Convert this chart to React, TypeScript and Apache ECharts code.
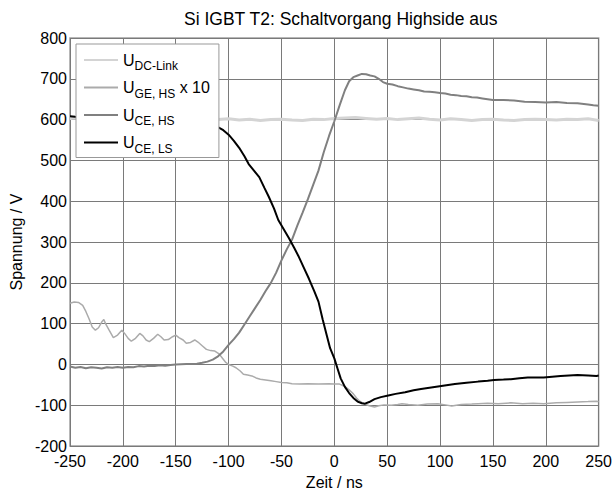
import React, { useEffect, useRef } from "react";
import * as echarts from "echarts";

const FONT = "'Liberation Sans', Arial, sans-serif";

const titleText = "Si IGBT T2: Schaltvorgang Highside aus";
const xTicks = { min: -250, max: 250, step: 50 };
const yTicks = { min: -200, max: 800, step: 100 };

// U_DC-Link
const tDC = [-250, -245, -240, -200, -150, -110, -100, -90, -80, -70, -60, -50, -40, -30, -20, -10, 0, 10, 20, 30, 40, 50, 60, 70, 80, 90, 100, 110, 120, 130, 140, 150, 160, 170, 180, 190, 200, 210, 220, 230, 240, 250];
const vDC = [603, 604, 602, 601, 600, 600, 602, 599, 601, 598, 600, 601, 599, 598, 601, 600, 603, 604, 605, 603, 601, 603, 600, 602, 604, 601, 599, 602, 600, 598, 600, 601, 599, 598, 600, 601, 600, 599, 601, 600, 602, 598];

// U_GE,HS x 10
const tGE = [-250, -246, -242, -238, -235, -232, -229, -226, -223, -220, -218, -216, -213, -209, -205, -201, -198, -195, -192, -188, -184, -181, -178, -175, -171, -167, -164, -161, -157, -153, -150, -147, -143, -140, -136, -132, -129, -125, -121, -117, -113, -109, -106, -103, -100, -96, -93, -89, -86, -82, -78, -74, -70, -65, -60, -55, -50, -45, -40, -33, -25, -15, -5, 0, 5, 10, 14, 18, 21, 24, 28, 33, 38, 42, 47, 54, 60, 64, 70, 79, 88, 98, 105, 111, 120, 130, 136, 145, 155, 167, 178, 188, 198, 210, 220, 230, 240, 248, 250];
const vGE = [150, 153, 152, 145, 130, 112, 92, 84, 90, 104, 110, 98, 84, 66, 72, 84, 75, 64, 57, 64, 76, 70, 60, 56, 64, 74, 68, 60, 61, 68, 72, 66, 60, 52, 54, 60, 55, 46, 37, 34, 33, 26, 16, 6, 0, -4, -8, -16, -24, -26, -28, -33, -36, -38, -40, -42, -44, -45, -47, -48, -47, -48, -47, -48, -48, -54, -62, -72, -82, -90, -96, -101, -104, -101, -99, -100, -98, -96, -98, -100, -97, -96, -99, -102, -98, -97, -96, -95, -96, -94, -96, -95, -96, -94, -93, -92, -91, -90, -91];

// U_CE,HS
const tCEH = [-250, -245, -240, -235, -230, -225, -220, -215, -210, -205, -200, -195, -190, -185, -180, -175, -170, -165, -160, -155, -150, -140, -130, -125, -120, -115, -110, -105, -100, -95, -90, -85, -80, -75, -70, -65, -60, -55, -50, -45, -40, -35, -30, -25, -20, -15, -10, -5, 0, 5, 10, 14, 18, 22, 26, 30, 34, 38, 42, 46, 50, 55, 60, 65, 70, 75, 80, 85, 90, 95, 100, 105, 110, 115, 120, 125, 130, 135, 140, 145, 150, 160, 170, 180, 190, 200, 210, 220, 230, 240, 245, 250];
const vCEH = [-5, -8, -6, -9, -7, -8, -10, -7, -8, -6, -8, -6, -7, -4, -5, -3, -4, -2, -3, -1, 0, 1, 2, 4, 7, 12, 20, 32, 48, 62, 78, 98, 118, 138, 158, 180, 200, 225, 255, 282, 306, 340, 372, 405, 440, 475, 520, 560, 596, 635, 672, 694, 704, 708, 712, 711, 708, 706, 700, 692, 688, 686, 682, 679, 676, 674, 672, 669, 668, 667, 665, 664, 661, 660, 658, 657, 655, 654, 652, 650, 648, 648, 647, 644, 643, 642, 643, 641, 640, 637, 635, 634];

// U_CE,LS
const tCEL = [-250, -245, -200, -160, -140, -125, -115, -111, -105, -100, -95, -90, -85, -81, -76, -71, -66, -62, -57, -53, -48, -43, -38, -34, -29, -24, -19, -15, -11, -7, -4, 0, 3, 6, 10, 14, 18, 22, 26, 29, 33, 38, 44, 51, 58, 67, 75, 82, 90, 98, 106, 114, 125, 136, 145, 151, 160, 167, 175, 183, 190, 198, 206, 214, 222, 230, 240, 248, 250];
const vCEL = [608, 607, 606, 603, 598, 592, 587, 583, 574, 563, 548, 531, 510, 491, 475, 459, 432, 411, 382, 354, 332, 310, 286, 266, 238, 210, 180, 154, 110, 70, 40, 15, -10, -34, -55, -70, -82, -91, -95, -96, -92, -85, -80, -76, -72, -68, -63, -60, -57, -54, -51, -48, -45, -42, -40, -38, -37, -36, -34, -32, -32, -32, -30, -28, -27, -26, -27, -28, -27];

const seriesNames = ["U_DC-Link", "U_GE,HS x 10", "U_CE,HS", "U_CE,LS"];
const legendRich: Record<string, string> = {
  "U_DC-Link": "{u|U}{s|DC-Link}",
  "U_GE,HS x 10": "{u|U}{s|GE, HS}{x| x 10}",
  "U_CE,HS": "{u|U}{s|CE, HS}",
  "U_CE,LS": "{u|U}{s|CE, LS}",
};

const zip = (t: number[], v: number[]) => t.map((x, i) => [x, v[i]]);

export default function App() {
  const ref = useRef<HTMLDivElement>(null);
  useEffect(() => {
    if (!ref.current) return;
    const chart = echarts.init(ref.current, undefined, { renderer: "svg" });
    const lineSeries = (name: string, data: number[][], color: string, width: number) => ({
      type: "line",
      name,
      data,
      symbol: "none",
      showSymbol: false,
      lineStyle: { color, width },
      itemStyle: { color },
      z: 2,
    });
    chart.setOption({
      animation: false,
      textStyle: { fontFamily: FONT },
      title: {
        text: titleText,
        left: 184,
        top: 10,
        padding: 0,
        textStyle: { fontSize: 17.5, fontWeight: "normal", color: "#000", fontFamily: FONT },
      },
      grid: {
        left: 70,
        right: 13,
        top: 38,
        bottom: 41,
        show: true,
        borderColor: "#a0a0a0",
        borderWidth: 1.5,
      },
      legend: {
        orient: "vertical",
        left: 76,
        top: 44,
        padding: [4, 9, 3, 7],
        itemGap: 3.5,
        itemWidth: 34,
        itemHeight: 12,
        backgroundColor: "#fff",
        borderColor: "#999",
        borderWidth: 1,
        borderRadius: 0,
        itemStyle: { opacity: 0 },
        data: seriesNames,
        formatter: (name: string) => legendRich[name] || name,
        textStyle: {
          color: "#000",
          fontFamily: FONT,
          rich: {
            u: { fontSize: 16, lineHeight: 24, fontFamily: FONT, color: "#000" },
            s: { fontSize: 12, lineHeight: 12, padding: [12, 0, 0, 0], fontFamily: FONT, color: "#000" },
            x: { fontSize: 16, lineHeight: 24, fontFamily: FONT, color: "#000" },
          },
        },
      },
      xAxis: {
        type: "value",
        min: xTicks.min,
        max: xTicks.max,
        interval: xTicks.step,
        axisLine: { show: false },
        axisTick: { show: false },
        splitLine: { show: true, lineStyle: { color: "#7a7a7a", width: 1 } },
        axisLabel: { fontSize: 16, lineHeight: 12, color: "#000", margin: 9, fontFamily: FONT },
        name: "Zeit / ns",
        nameLocation: "middle",
        nameGap: 23,
        nameTextStyle: { fontSize: 16, color: "#000", fontFamily: FONT },
      },
      yAxis: {
        type: "value",
        min: yTicks.min,
        max: yTicks.max,
        interval: yTicks.step,
        axisLine: { show: false },
        axisTick: { show: false },
        splitLine: { show: true, lineStyle: { color: "#7a7a7a", width: 1 } },
        axisLabel: { fontSize: 16, lineHeight: 12, color: "#000", margin: 3, fontFamily: FONT },
        name: "Spannung / V",
        nameLocation: "middle",
        nameGap: 41,
        nameTextStyle: { fontSize: 16, color: "#000", fontFamily: FONT },
      },
      series: [
        lineSeries(seriesNames[0], zip(tDC, vDC), "#d4d4d4", 3),
        lineSeries(seriesNames[1], zip(tGE, vGE), "#ababab", 1.5),
        lineSeries(seriesNames[2], zip(tCEH, vCEH), "#808080", 2),
        lineSeries(seriesNames[3], zip(tCEL, vCEL), "#000000", 2),
      ],
    });
    return () => chart.dispose();
  }, []);
  return (
    <div
      ref={ref}
      style={{ position: "fixed", left: 0, top: 0, width: 615, height: 495, background: "#fff" }}
    />
  );
}
